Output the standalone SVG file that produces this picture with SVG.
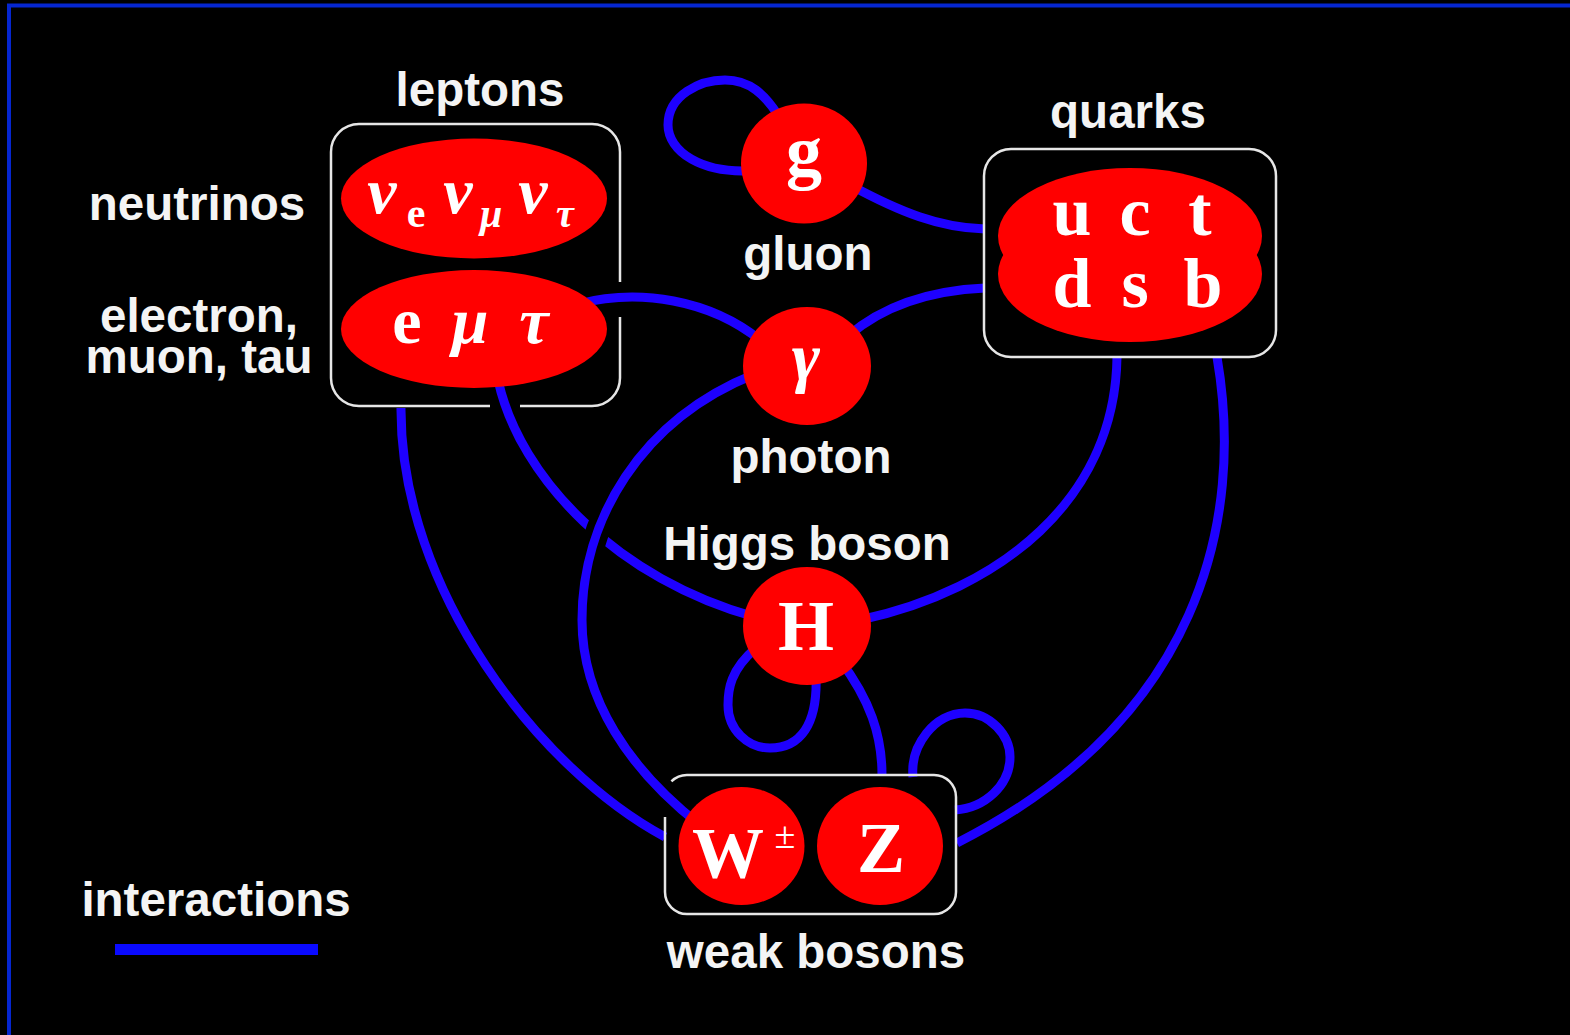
<svg xmlns="http://www.w3.org/2000/svg" width="1570" height="1035" viewBox="0 0 1570 1035">
<style>
.bg{fill:#000}
.lbl{font-family:"Liberation Sans",Arial,sans-serif;font-weight:bold;font-size:47.5px;fill:#f4f4f4;text-anchor:middle}
.sym{font-family:"Liberation Serif","Times New Roman",serif;font-weight:bold;fill:#fff;text-anchor:middle}
.it{font-style:italic}
.box{fill:none;stroke:#e6e6e6;stroke-width:2.5}
.red{fill:#ff0000}
.ln{fill:none;stroke:#1e00ff;stroke-width:9}
.halo{fill:none;stroke:#000;stroke-width:24}
</style>
<rect class="bg" x="0" y="0" width="1570" height="1035"/>
<g id="frame">
<line x1="7" y1="5.5" x2="1570" y2="5.5" stroke="#0526d0" stroke-width="4"/>
<line x1="9" y1="4" x2="9" y2="1035" stroke="#0526d0" stroke-width="4"/>
</g>
<g id="connectors">
<path class="ln" d="M 760 170 C 700 176, 668 150, 668 125 C 668 95, 700 80, 725 80 C 750 80, 765 95, 778 115"/>
<path class="ln" d="M 850 185 C 900 212, 940 228, 985 229"/>
<path class="ln" d="M 578 304 C 640 288, 710 300, 760 340"/>
<path class="ln" d="M 848 336 C 890 300, 940 290, 985 288"/>
<path class="ln" d="M 498 380 C 520 480, 620 580, 755 617"/>
<path class="ln" d="M 401 408 C 400 590, 540 770, 665 837"/>
<path class="ln" d="M 860 620 C 1000 590, 1115 500, 1117 357"/>
<path class="ln" d="M 1217 357 C 1245 520, 1200 720, 957 843"/>
<path class="ln" d="M 756 648 C 730 670, 728 690, 728 705 C 728 730, 748 748, 770 748 C 800 748, 818 725, 816 675"/>
<path class="ln" d="M 840 660 C 870 700, 882 735, 882 775"/>
<path class="ln" d="M 913 777 C 910 745, 935 713, 965 713 C 990 713, 1010 735, 1010 757 C 1010 785, 985 808, 955 810"/>
<path class="halo" d="M 748 377 C 640 420, 582 520, 582 620 C 582 700, 630 770, 690 815"/>
<path class="ln" d="M 755 374 C 640 420, 582 520, 582 620 C 582 700, 630 770, 700 825"/>
</g>
<g id="leptons">
<path class="box" d="M 620 317 L 620 378 A 28 28 0 0 1 592 406 L 520 406 M 490 406 L 359 406 A 28 28 0 0 1 331 378 L 331 152 A 28 28 0 0 1 359 124 L 592 124 A 28 28 0 0 1 620 152 L 620 282"/>
<text class="lbl" x="480" y="106">leptons</text>
</g>
<g id="neutrinos">
<ellipse class="red" cx="474" cy="198.5" rx="133" ry="60"/>
<text class="sym it" x="382" y="213" font-size="66">ν</text>
<text class="sym" x="416" y="227" font-size="42">e</text>
<text class="sym it" x="458" y="213" font-size="66">ν</text>
<text class="sym it" x="491" y="227" font-size="40">μ</text>
<text class="sym it" x="533" y="213" font-size="66">ν</text>
<text class="sym it" x="565" y="227" font-size="40">τ</text>
<text class="lbl" x="197" y="220">neutrinos</text>
</g>
<g id="charged-leptons">
<ellipse class="red" cx="474" cy="329" rx="133" ry="59"/>
<text class="sym" x="407" y="343" font-size="66">e</text>
<text class="sym it" x="470" y="343" font-size="66">μ</text>
<text class="sym it" x="534" y="343" font-size="66">τ</text>
<text class="lbl" x="199" y="332">electron,<tspan x="199" y="373">muon, tau</tspan></text>
</g>
<g id="quarks">
<rect class="box" x="984" y="149" width="292" height="208" rx="27"/>
<ellipse class="red" cx="1130" cy="236" rx="132" ry="68"/>
<ellipse class="red" cx="1130" cy="274" rx="132" ry="68"/>
<text class="sym" x="1072" y="235" font-size="70">u</text>
<text class="sym" x="1135" y="235" font-size="70">c</text>
<text class="sym" x="1200" y="235" font-size="70">t</text>
<text class="sym" x="1072" y="307" font-size="70">d</text>
<text class="sym" x="1135" y="307" font-size="70">s</text>
<text class="sym" x="1203" y="307" font-size="70">b</text>
<text class="lbl" x="1128" y="128">quarks</text>
</g>
<g id="gluon">
<ellipse class="red" cx="804" cy="163.5" rx="63" ry="60"/>
<text class="sym" x="804" y="176" font-size="72">g</text>
<text class="lbl" x="808" y="270">gluon</text>
</g>
<g id="photon">
<ellipse class="red" cx="807" cy="366" rx="64" ry="59"/>
<text class="sym it" x="806" y="380" font-size="68">γ</text>
<text class="lbl" x="811" y="473">photon</text>
</g>
<g id="higgs">
<ellipse class="red" cx="807" cy="626" rx="64" ry="59"/>
<text class="sym" x="806" y="650" font-size="72">H</text>
<text class="lbl" x="807" y="560">Higgs boson</text>
</g>
<g id="weak-bosons">
<path class="box" d="M 665 817 L 665 892 A 22 22 0 0 0 687 914 L 934 914 A 22 22 0 0 0 956 892 L 956 797 A 22 22 0 0 0 934 775 L 687 775 A 22 22 0 0 0 671.4 781.4"/>
<text class="lbl" x="816" y="968">weak bosons</text>
</g>
<g id="W">
<ellipse class="red" cx="741.5" cy="846" rx="63" ry="59"/>
<text class="sym" x="728" y="877" font-size="72">W</text>
<text x="785" y="848" font-family="Liberation Serif,serif" font-size="38" fill="#fff" text-anchor="middle">±</text>
</g>
<g id="Z">
<ellipse class="red" cx="880" cy="846" rx="63" ry="59"/>
<text class="sym" x="881" y="872" font-size="72">Z</text>
</g>
<g id="legend">
<text class="lbl" x="216" y="916">interactions</text>
<rect x="115" y="944" width="203" height="11" fill="#0a0aff"/>
</g>
</svg>
